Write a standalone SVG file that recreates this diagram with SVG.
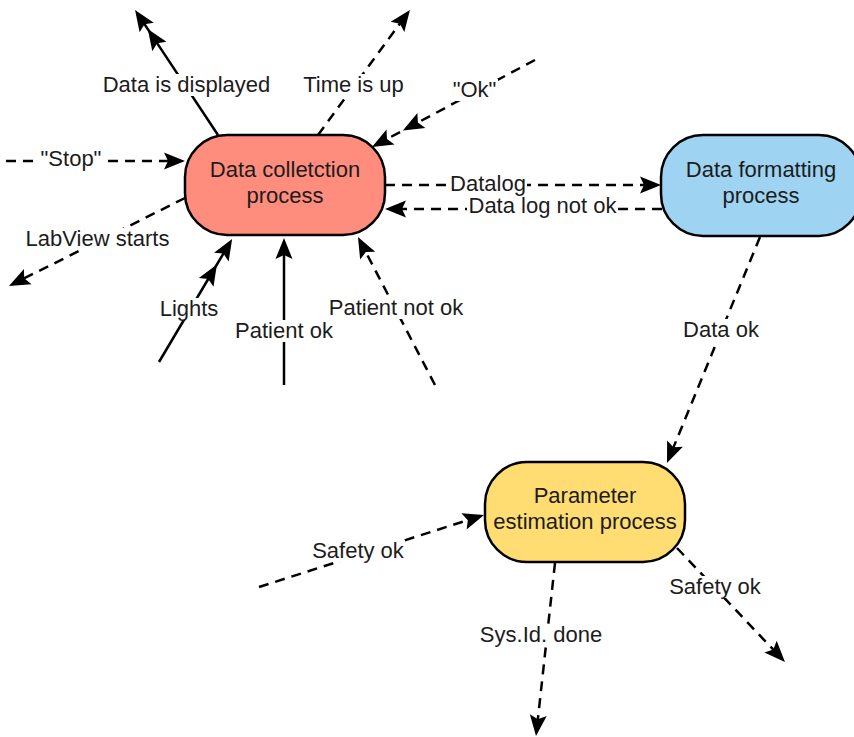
<svg xmlns="http://www.w3.org/2000/svg" width="854" height="737" viewBox="0 0 854 737">
  <style>
    .node { stroke: #000; stroke-width: 2.5; }
    .red { fill: #ff8d7e; }
    .blue { fill: #9fd3f2; }
    .yellow { fill: #ffdd73; }
    .ntext { font-family: "Liberation Sans", Arial, sans-serif; font-size: 22px; fill: #1c1c1c; text-anchor: middle; }
    .edge { fill: none; stroke: #000; stroke-width: 2.5; }
    .dash { stroke-dasharray: 10 7; }
    .arrow { marker-end: url(#ah); }
    .arrow2 { marker-mid: url(#ah); marker-end: url(#ah); }
    .lbg { fill: #fff; }
    .ltext { font-family: "Liberation Sans", Arial, sans-serif; font-size: 22px; fill: #1c1c1c; text-anchor: middle; }
  </style>
  <defs>
    <!-- filled arrowhead, tip sits 10px beyond the path vertex -->
    <marker id="ah" markerUnits="userSpaceOnUse" viewBox="-24 -11 26 22" markerWidth="26" markerHeight="22" refX="-10" refY="0" orient="auto">
      <path d="M0,0 L-21,-8.5 L-17,0 L-21,8.5 Z" fill="#000"/>
    </marker>
  </defs>

  <rect width="854" height="737" fill="#fff"/>

  <g id="connectors">
    <path class="edge arrow2" d="M218,135 L153.3,37.4 L140.6,18.3"/>
    <path class="edge dash arrow" d="M318,135 L404,18"/>
    <path class="edge dash arrow2" d="M535,60 L411.7,125.8 L380.8,142.3"/>
    <path class="edge dash arrow" d="M6,161 L175,161"/>
    <path class="edge dash arrow" d="M185,198 L17.9,281.5"/>
    <path class="edge dash arrow" d="M385,185 L651,185"/>
    <path class="edge dash arrow" d="M662,209 L395,209"/>
    <path class="edge arrow2" d="M159,362 L211.8,273 L227,247.6"/>
    <path class="edge arrow" d="M284,385 L284,248"/>
    <path class="edge dash arrow" d="M435,385 L362.6,245.9"/>
    <path class="edge dash arrow" d="M760,237 L670.8,453.8"/>
    <path class="edge dash arrow" d="M259,587 L474.5,518"/>
    <path class="edge dash arrow" d="M555,563 L537.1,726.1"/>
    <path class="edge dash arrow" d="M677,548 L778.1,654.7"/>
  </g>

  <g id="labels">
    <g id="lbl-displayed"><rect class="lbg" x="101" y="74" width="170" height="22"/><text class="ltext" x="186.5" y="92">Data is displayed</text></g>
    <g id="lbl-timeup"><rect class="lbg" x="301" y="74" width="104" height="22"/><text class="ltext" x="353.5" y="92">Time is up</text></g>
    <g id="lbl-ok"><rect class="lbg" x="451" y="79" width="47" height="22"/><text class="ltext" x="474.5" y="97">"Ok"</text></g>
    <g id="lbl-stop"><rect class="lbg" x="40" y="148" width="62" height="22"/><text class="ltext" x="71" y="166">"Stop"</text></g>
    <g id="lbl-labview"><rect class="lbg" x="24" y="228" width="146" height="22"/><text class="ltext" x="97.5" y="246">LabView starts</text></g>
    <g id="lbl-datalog"><rect class="lbg" x="449" y="174" width="78" height="21"/><text class="ltext" x="488" y="191">Datalog</text></g>
    <g id="lbl-lognotok"><rect class="lbg" x="467" y="197" width="151" height="21"/><text class="ltext" x="542.5" y="213">Data log not ok</text></g>
    <g id="lbl-lights"><rect class="lbg" x="159" y="298" width="60" height="22"/><text class="ltext" x="189" y="316">Lights</text></g>
    <g id="lbl-patientok"><rect class="lbg" x="234" y="320" width="100" height="22"/><text class="ltext" x="284" y="338">Patient ok</text></g>
    <g id="lbl-patientnotok"><rect class="lbg" x="328" y="297" width="136" height="22"/><text class="ltext" x="396" y="315">Patient not ok</text></g>
    <g id="lbl-dataok"><rect class="lbg" x="682" y="319" width="78" height="22"/><text class="ltext" x="721" y="337">Data ok</text></g>
    <g id="lbl-safety1"><rect class="lbg" x="311" y="540" width="94" height="22"/><text class="ltext" x="358" y="558">Safety ok</text></g>
    <g id="lbl-sysid"><rect class="lbg" x="479" y="624" width="124" height="22"/><text class="ltext" x="541" y="642">Sys.Id. done</text></g>
    <g id="lbl-safety2"><rect class="lbg" x="668" y="576" width="94" height="22"/><text class="ltext" x="715" y="594">Safety ok</text></g>
  </g>

  <g id="data-collection">
    <rect class="node red" x="185" y="135" width="200" height="100" rx="42" ry="42"/>
    <text class="ntext" x="285" y="177">Data colletction</text>
    <text class="ntext" x="285" y="203">process</text>
  </g>

  <g id="data-formatting">
    <rect class="node blue" x="661" y="135" width="200" height="101" rx="42" ry="42"/>
    <text class="ntext" x="761" y="177">Data formatting</text>
    <text class="ntext" x="761" y="203">process</text>
  </g>

  <g id="parameter-estimation">
    <rect class="node yellow" x="485" y="462" width="200" height="100" rx="42" ry="42"/>
    <text class="ntext" x="585" y="503">Parameter</text>
    <text class="ntext" x="585" y="529">estimation process</text>
  </g>
</svg>
